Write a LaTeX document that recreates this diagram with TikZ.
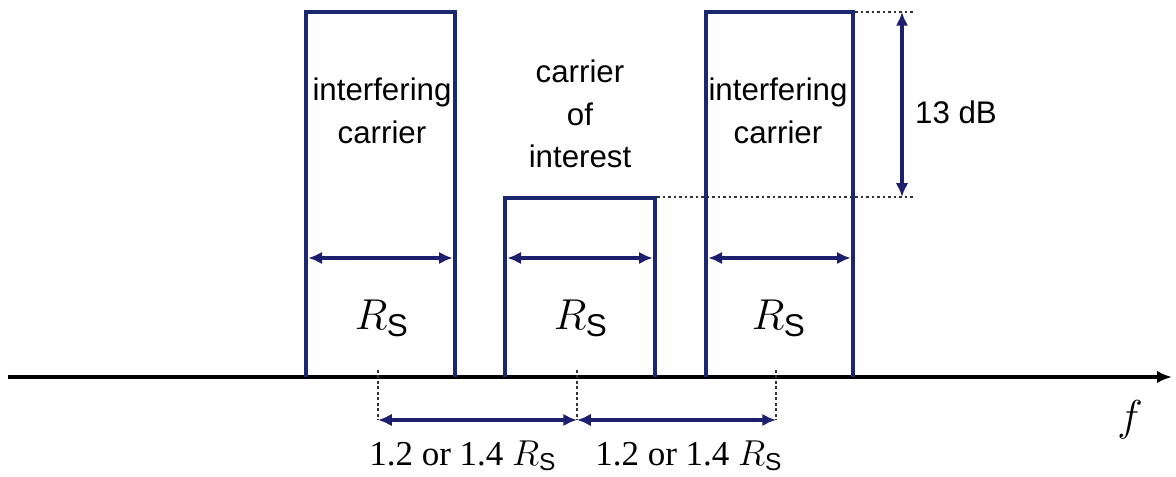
\documentclass[tikz,border=0pt]{standalone}
\usepackage{fontspec}
\setmainfont{Liberation Sans}
\newfontfamily\figserif{Liberation Serif}
\usepackage{tikz}
\usetikzlibrary{arrows.meta}
\definecolor{navy}{HTML}{1B2870}
\definecolor{arrowink}{HTML}{1E1E6E}

\begin{document}
\begin{tikzpicture}[
  x=0.4pt,y=-0.4pt,
  carrier/.style={draw=navy,line width=1.8pt},
  axis/.style={-{Latex[length=6pt,width=5pt]},line width=1.5pt,draw=black},
  dim/.style={{Latex[length=5.5pt,width=5pt]}-{Latex[length=5.5pt,width=5pt]},draw=arrowink,line width=1.5pt},
  guide/.style={line width=1.1pt,dash pattern=on 1.1pt off 1.1pt,draw=black!80},
  lbl/.style={font=\fontsize{12.5}{17}\selectfont,align=center,inner sep=0pt},
  rs/.style={font=\fontsize{18}{20}\selectfont,inner sep=0pt},
  spacing/.style={font=\figserif\fontsize{14}{16}\selectfont,inner sep=0pt}
]
\useasboundingbox (0,0) rectangle (1176,477);
% frequency axis
\coordinate (f0) at (8,377);
\coordinate (f1) at (1172,377);
\draw[axis] (f0) -- (f1);
\node[font=\fontsize{19}{21}\selectfont,inner sep=0pt] (flab) at (1130,420) {$f$};
% carriers
\draw[carrier] (306,377) -- (306,12) -- (455,12) -- (455,377);
\draw[carrier] (505,377) -- (505,198) -- (655,198) -- (655,377);
\draw[carrier] (706,377) -- (706,12) -- (853,12) -- (853,377);
\node[lbl] (int1) at (382,111) {interfering\\carrier};
\node[lbl] (coi) at (580,114) {carrier\\of\\interest};
\node[lbl] (int2) at (778,111) {interfering\\carrier};
% symbol rate arrows
\coordinate (w1a) at (306,258); \coordinate (w1b) at (455,258);
\coordinate (w2a) at (505,258); \coordinate (w2b) at (655,258);
\coordinate (w3a) at (706,258); \coordinate (w3b) at (853,258);
\draw[dim,shorten <=0.9pt,shorten >=0.9pt] (w1a) -- (w1b);
\draw[dim,shorten <=0.9pt,shorten >=0.9pt] (w2a) -- (w2b);
\draw[dim,shorten <=0.9pt,shorten >=0.9pt] (w3a) -- (w3b);
\node[rs] (rs1) at (382,318) {$R_\mathrm{S}$};
\node[rs] (rs2) at (581,318) {$R_\mathrm{S}$};
\node[rs] (rs3) at (779,318) {$R_\mathrm{S}$};
% carrier spacing
\coordinate (s1) at (378,370); \coordinate (s1b) at (378,420);
\coordinate (s2) at (577,370); \coordinate (s2b) at (577,420);
\coordinate (s3) at (776,370); \coordinate (s3b) at (776,420);
\draw[guide] (s1) -- (s1b);
\draw[guide] (s2) -- (s2b);
\draw[guide] (s3) -- (s3b);
\draw[dim] (s1b) -- (s2b);
\draw[dim] (s2b) -- (s3b);
\node[spacing] (sp1) at (463,456) {1.2 or 1.4 $R_\mathrm{S}$};
\node[spacing] (sp2) at (689,456) {1.2 or 1.4 $R_\mathrm{S}$};
% level difference
\coordinate (h0) at (855,12); \coordinate (h1) at (915,12);
\coordinate (l0) at (657,197); \coordinate (l1) at (915,197);
\coordinate (d0) at (902,12); \coordinate (d1) at (902,197);
\draw[guide] (h0) -- (h1);
\draw[guide] (l0) -- (l1);
\draw[dim] (d0) -- (d1);
\node[lbl] (db) at (956,112) {13 dB};
\end{tikzpicture}
\end{document}
